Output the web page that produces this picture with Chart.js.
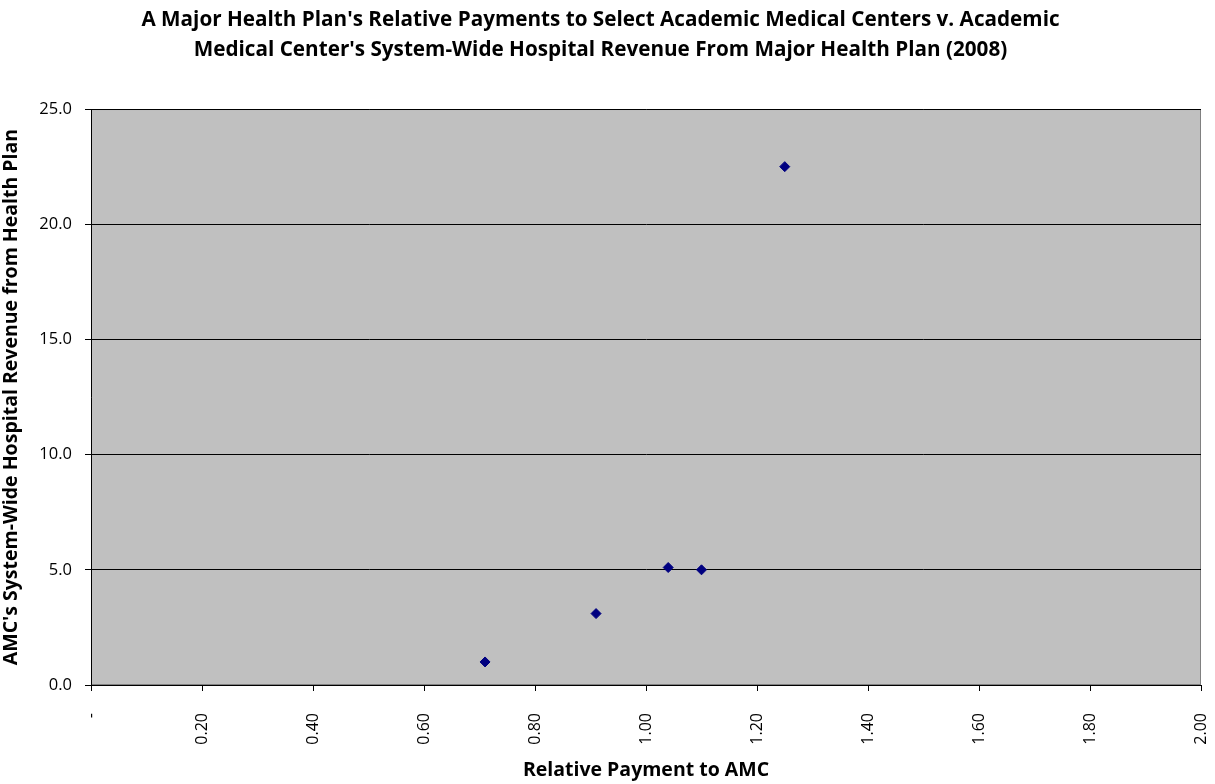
<!DOCTYPE html>
<html>
<head>
<meta charset="utf-8">
<title>Relative Payments</title>
<script src="https://cdn.jsdelivr.net/npm/chart.js@4.4.1/dist/chart.umd.min.js"></script>
<style>
  html, body { margin: 0; padding: 0; background: #fff; }
  #wrap { width: 1215px; height: 784px; }
</style>
</head>
<body>
<div id="wrap"><canvas id="chart" width="1215" height="784"></canvas></div>
<script>
// relative payment (x) vs system-wide revenue from plan (y)
var payment = [0.71, 0.91, 1.04, 1.10, 1.25];
var revenue = [1.0, 3.1, 5.1, 5.0, 22.5];
var titleLines = [
  "A Major Health Plan's Relative Payments to Select Academic Medical Centers v. Academic",
  "Medical Center's System-Wide Hospital Revenue From Major Health Plan (2008)"
];
var xTitle = "Relative Payment to AMC";
var yTitle = "AMC's System-Wide Hospital Revenue from Health Plan";

var pts = payment.map(function(p, i) { return {x: p, y: revenue[i]}; });

// grey plot area with thin grey frame on top/right
var plotBg = {
  id: 'plotBg',
  beforeDraw: function(chart) {
    var a = chart.chartArea, ctx = chart.ctx;
    ctx.save();
    ctx.fillStyle = '#C0C0C0';
    ctx.fillRect(a.left, a.top, a.right - a.left, a.bottom - a.top);
    ctx.strokeStyle = '#808080';
    ctx.lineWidth = 1;
    ctx.strokeRect(a.left + 0.5, a.top + 0.5, a.right - a.left - 1, a.bottom - a.top - 1);
    ctx.restore();
  }
};

new Chart(document.getElementById('chart'), {
  type: 'scatter',
  data: {
    datasets: [{
      data: pts,
      pointStyle: 'rectRot',
      pointRadius: 5,
      pointHoverRadius: 5,
      backgroundColor: '#000080',
      borderColor: '#000080',
      borderWidth: 1
    }]
  },
  plugins: [plotBg],
  options: {
    responsive: false,
    animation: false,
    layout: { padding: { left: 0, right: 14, top: 0, bottom: 0 } },
    plugins: {
      legend: { display: false },
      tooltip: { enabled: false },
      title: {
        display: true,
        text: titleLines,
        color: '#000',
        font: { family: 'Open Sans', size: 20.7, weight: 'bold', lineHeight: 1.45 },
        padding: { top: 5, bottom: 44 }
      }
    },
    scales: {
      x: {
        type: 'linear',
        min: 0, max: 2,
        afterFit: function(s) { s.height = 99; s.paddingLeft = 0; s.paddingRight = 0; },
        ticks: {
          stepSize: 0.2,
          minRotation: 90, maxRotation: 90,
          color: '#000',
          padding: 22,
          font: { family: 'Open Sans', size: 16 },
          callback: function(v) { return v === 0 ? '-' : Number(v).toFixed(2); }
        },
        grid: { drawOnChartArea: false, drawTicks: true, tickLength: 6, tickColor: '#000' },
        border: { color: '#000', width: 1 },
        title: {
          display: true, text: xTitle, color: '#000',
          font: { family: 'Open Sans', size: 19.5, weight: 'bold' },
          padding: { top: 0, bottom: 2 }
        }
      },
      y: {
        min: 0, max: 25,
        afterFit: function(s) { s.width = 91; },
        ticks: {
          stepSize: 5,
          color: '#000',
          padding: 13,
          font: { family: 'Open Sans', size: 16.5 },
          callback: function(v) { return Number(v).toFixed(1); }
        },
        grid: { color: '#000', lineWidth: 1, drawTicks: true, tickLength: 6, tickColor: '#000' },
        border: { color: '#000', width: 1 },
        title: {
          display: true, text: yTitle, color: '#000',
          font: { family: 'Open Sans', size: 19.5, weight: 'bold' },
          padding: { top: 0, bottom: 2 }
        }
      }
    }
  }
});
</script>
</body>
</html>
